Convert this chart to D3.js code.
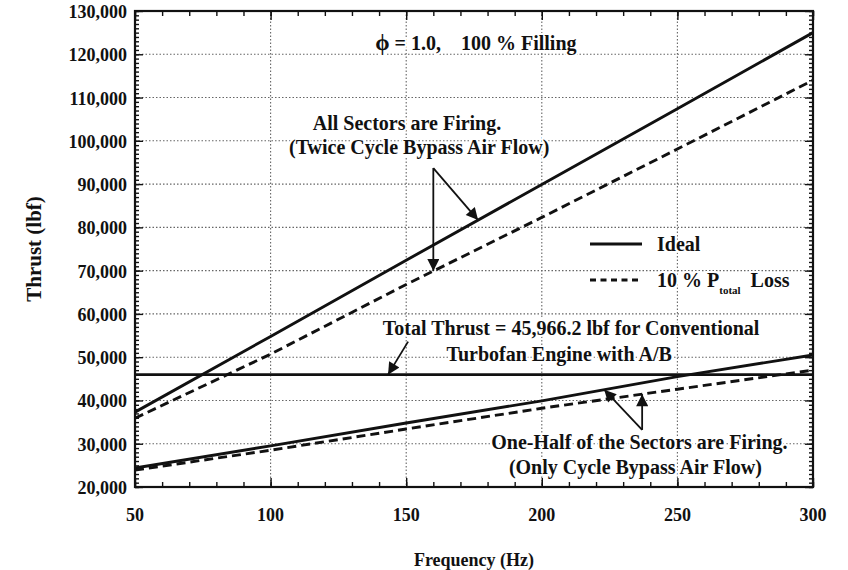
<!DOCTYPE html>
<html>
<head>
<meta charset="utf-8">
<script src="https://cdn.jsdelivr.net/npm/d3@7"></script>
<style>
  body { margin: 0; background: #fff; }
  svg text { font-family: "Liberation Serif", "Times New Roman", serif; font-weight: bold; fill: #111; }
</style>
</head>
<body>
<svg id="mainsvg" width="848" height="570"></svg>
<script>
// data
const freq = [50, 100, 150, 200, 250, 300]
const allIdeal = [37300, 54800, 72400, 89900, 107400, 125000]
const allLoss = [35900, 50700, 66800, 82300, 98100, 114000]
const halfIdeal = [24400, 29500, 34800, 39900, 45500, 50500]
const halfLoss = [23900, 28500, 33400, 38200, 42600, 47000]
const conventional = 45966.2
const xTicks = [50, 100, 150, 200, 250, 300]
const yTicks = [20000, 30000, 40000, 50000, 60000, 70000, 80000, 90000, 100000, 110000, 120000, 130000]

const margin = {left: 135, right: 35, top: 11, bottom: 83}
const width = 848, height = 570
const svg = d3.select('#mainsvg')

const x = d3.scaleLinear().domain([50, 300]).range([margin.left, width - margin.right])
const y = d3.scaleLinear().domain([20000, 130000]).range([height - margin.bottom, margin.top])

// value of a series at frequency f
function at(series, f) {
  const i = Math.min(Math.max(d3.bisectRight(freq, f) - 1, 0), freq.length - 2)
  const t = (f - freq[i]) / (freq[i + 1] - freq[i])
  return series[i] + t * (series[i + 1] - series[i])
}

// grid
const grid = svg.append('g')
grid.selectAll('.gx').data(xTicks.slice(1, -1)).join('line')
  .attr('x1', d => x(d)).attr('x2', d => x(d))
  .attr('y1', y(130000)).attr('y2', y(20000))
  .attr('stroke', '#666').attr('stroke-width', 1.1).attr('stroke-dasharray', '1.5,2')
grid.selectAll('.gy').data(yTicks.slice(1, -1)).join('line')
  .attr('y1', d => y(d)).attr('y2', d => y(d))
  .attr('x1', x(50)).attr('x2', x(300))
  .attr('stroke', '#666').attr('stroke-width', 1.1).attr('stroke-dasharray', '1.5,2')

// axes, ticks pointing inward on all four sides
const xMinor = d3.range(50, 301, 10)
const yMinor = d3.range(20000, 130001, 1000)
svg.append('g').attr('transform', `translate(0,${y(20000)})`)
  .call(d3.axisTop(x).tickValues(xMinor).tickSize(5).tickFormat(''))
svg.append('g').attr('transform', `translate(0,${y(20000)})`)
  .call(d3.axisTop(x).tickValues(xTicks).tickSize(9).tickFormat(''))
svg.append('g').attr('transform', `translate(0,${y(130000)})`)
  .call(d3.axisBottom(x).tickValues(xMinor).tickSize(5).tickFormat(''))
svg.append('g').attr('transform', `translate(0,${y(130000)})`)
  .call(d3.axisBottom(x).tickValues(xTicks).tickSize(9).tickFormat(''))
svg.append('g').attr('transform', `translate(${x(50)},0)`)
  .call(d3.axisRight(y).tickValues(yMinor).tickSize(4).tickFormat(''))
svg.append('g').attr('transform', `translate(${x(50)},0)`)
  .call(d3.axisRight(y).tickValues(yTicks).tickSize(8).tickFormat(''))
svg.append('g').attr('transform', `translate(${x(300)},0)`)
  .call(d3.axisLeft(y).tickValues(yMinor).tickSize(4).tickFormat(''))
svg.append('g').attr('transform', `translate(${x(300)},0)`)
  .call(d3.axisLeft(y).tickValues(yTicks).tickSize(8).tickFormat(''))
svg.selectAll('.domain').remove()
svg.selectAll('.tick line').attr('stroke', '#111').attr('stroke-width', 1.4)

// tick labels
svg.append('g').selectAll('text').data(xTicks).join('text')
  .attr('x', d => x(d)).attr('y', y(20000) + 34)
  .attr('text-anchor', 'middle').style('font-size', '18px')
  .text(d => d)
svg.append('g').selectAll('text').data(yTicks).join('text')
  .attr('x', x(50) - 8).attr('y', d => y(d) + 7)
  .attr('text-anchor', 'end').style('font-size', '18px')
  .text(d => d3.format(',')(d))

// axis titles
svg.append('text').attr('x', (x(50) + x(300)) / 2).attr('y', 566)
  .attr('text-anchor', 'middle').style('font-size', '18px').text('Frequency (Hz)')
svg.append('text').attr('transform', `translate(41,${(y(20000) + y(130000)) / 2}) rotate(-90)`)
  .attr('text-anchor', 'middle').style('font-size', '21px').text('Thrust (lbf)')

// curves
const line = d3.line().x(d => x(d[0])).y(d => y(d[1]))
const curves = [
  {v: allIdeal, dash: null},
  {v: allLoss, dash: '9,5'},
  {v: halfIdeal, dash: null},
  {v: halfLoss, dash: '9,5'}
]
curves.forEach(c => {
  svg.append('path').datum(freq.map((f, i) => [f, c.v[i]]))
    .attr('d', line).attr('fill', 'none').attr('stroke', '#111')
    .attr('stroke-width', 2.9).attr('stroke-dasharray', c.dash)
})
svg.append('line')
  .attr('x1', x(50)).attr('x2', x(300))
  .attr('y1', y(conventional)).attr('y2', y(conventional))
  .attr('stroke', '#111').attr('stroke-width', 2.9)

// frame
svg.append('rect').attr('x', x(50)).attr('y', y(130000))
  .attr('width', x(300) - x(50)).attr('height', y(20000) - y(130000))
  .attr('fill', 'none').attr('stroke', '#111').attr('stroke-width', 2.2)

// arrows
svg.append('defs').append('marker').attr('id', 'head')
  .attr('viewBox', '0 0 10 10').attr('refX', 10).attr('refY', 5)
  .attr('markerWidth', 16).attr('markerHeight', 12).attr('orient', 'auto')
  .attr('markerUnits', 'userSpaceOnUse')
  .append('path').attr('d', 'M0,0 L10,5 L0,10 Z').attr('fill', '#111')

function arrow(f0, v0, f1, v1) {
  svg.append('line').attr('x1', x(f0)).attr('y1', y(v0)).attr('x2', x(f1)).attr('y2', y(v1))
    .attr('stroke', '#111').attr('stroke-width', 1.8).attr('marker-end', 'url(#head)')
}
arrow(160, 93700, 176.5, at(allIdeal, 176.5))
arrow(160, 93700, 160, at(allLoss, 160))
arrow(150.7, 53600, 143.3, conventional)
arrow(237, 33200, 223, at(halfIdeal, 223))
arrow(237, 33200, 237, at(halfLoss, 237))

// texts with white halo so the grid breaks behind them
function label(txt, f, v, size) {
  return svg.append('text').attr('x', x(f)).attr('y', y(v))
    .attr('text-anchor', 'middle').style('font-size', size || '20px')
    .attr('stroke', '#fff').attr('stroke-width', 4).attr('paint-order', 'stroke')
    .attr('xml:space', 'preserve').style('white-space', 'pre')
    .text(txt)
}
const title = label('', 175.7, 120900)
title.append('tspan').style('font-size', '23px').text('\u03D5')
title.append('tspan').text(' = 1.0,    100 % Filling')
label('All Sectors are Firing.', 150.3, 102400)
label('(Twice Cycle Bypass Air Flow)', 154.8, 96900)
label('Total Thrust = 45,966.2 lbf for Conventional', 210.8, 55100)
label('Turbofan Engine with A/B', 206.4, 49100)
label('One-Half of the Sectors are Firing.', 236, 28800)
label('(Only Cycle Bypass Air Flow)', 234.5, 23000)

// legend
const lg = svg.append('g')
lg.append('line').attr('x1', 590).attr('x2', 642).attr('y1', 244).attr('y2', 244)
  .attr('stroke', '#111').attr('stroke-width', 2.9)
lg.append('line').attr('x1', 590).attr('x2', 642).attr('y1', 280).attr('y2', 280)
  .attr('stroke', '#111').attr('stroke-width', 2.9).attr('stroke-dasharray', '6,4.5')
lg.append('text').attr('x', 657).attr('y', 251).style('font-size', '20px')
  .attr('stroke', '#fff').attr('stroke-width', 4).attr('paint-order', 'stroke').text('Ideal')
const t2 = lg.append('text').attr('x', 657).attr('y', 287).style('font-size', '20px')
  .attr('stroke', '#fff').attr('stroke-width', 4).attr('paint-order', 'stroke')
  .attr('xml:space', 'preserve').style('white-space', 'pre')
t2.append('tspan').text('10 % P')
t2.append('tspan').attr('dy', 7).style('font-size', '11px').text('total')
t2.append('tspan').attr('dy', -7).text('  Loss')
</script>
</body>
</html>
